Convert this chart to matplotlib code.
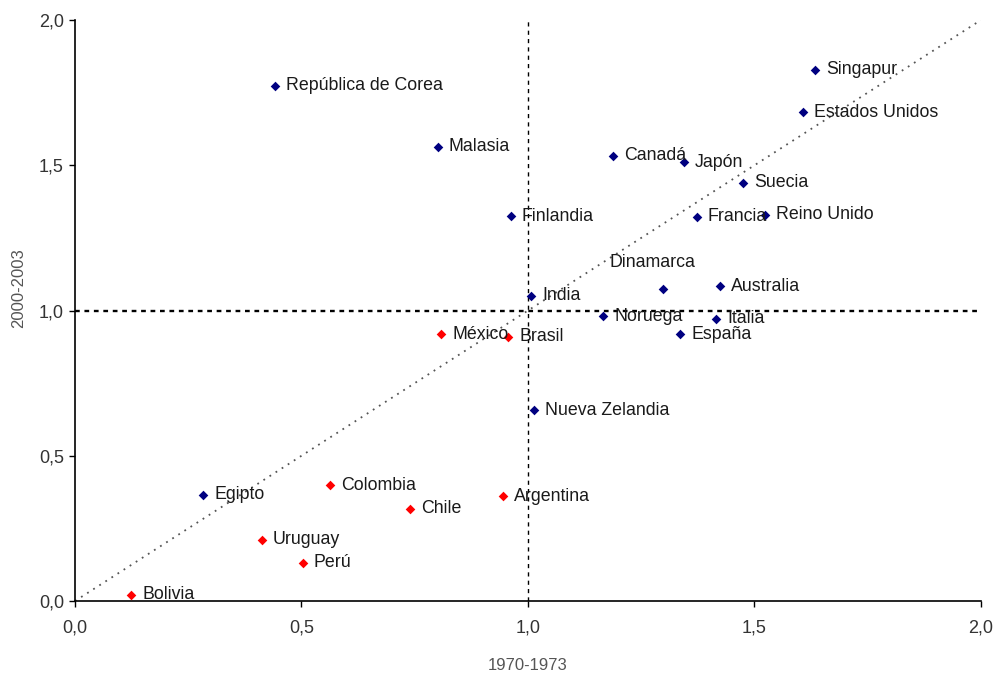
import matplotlib
matplotlib.use("Agg")
import matplotlib.pyplot as plt
from matplotlib.ticker import FuncFormatter

plt.rcParams['font.family'] = ['Liberation Sans', 'DejaVu Sans']

# Non-Latin-American countries (navy)
other_names = ["República de Corea", "Malasia", "Finlandia", "Canadá", "Japón", "Singapur",
               "Estados Unidos", "Suecia", "Francia", "Reino Unido", "Dinamarca", "Australia",
               "India", "Noruega", "Italia", "España", "Nueva Zelandia", "Egipto"]
other_x = [0.441, 0.801, 0.962, 1.188, 1.344, 1.634, 1.607, 1.475, 1.373, 1.523, 1.298, 1.424,
           1.007, 1.166, 1.415, 1.336, 1.013, 0.283]
other_y = [1.773, 1.563, 1.325, 1.532, 1.511, 1.828, 1.683, 1.439, 1.322, 1.329, 1.074, 1.084,
           1.050, 0.981, 0.971, 0.919, 0.657, 0.365]

# Latin American countries (red)
latam_names = ["México", "Brasil", "Colombia", "Chile", "Argentina", "Uruguay", "Perú", "Bolivia"]
latam_x = [0.808, 0.956, 0.563, 0.740, 0.945, 0.413, 0.503, 0.124]
latam_y = [0.919, 0.909, 0.399, 0.317, 0.361, 0.210, 0.131, 0.021]

ticks = [0.0, 0.5, 1.0, 1.5, 2.0]

fig = plt.figure(figsize=(9.95, 6.74), dpi=100)
ax = fig.add_axes([75/995, (674-601)/674, (981-75)/995, (601-20)/674])
ax.set_xlim(0, 2)
ax.set_ylim(0, 2)

# reference lines
ax.plot([0, 2], [0, 2], color='#555555', linestyle=(0, (1, 3)), linewidth=1.3, zorder=1)
ax.axvline(1.0, color='black', linestyle=(0, (3, 3)), linewidth=1.0, zorder=1)
ax.axhline(1.0, color='black', linestyle=(0, (2, 2)), linewidth=1.7, zorder=1)

ax.scatter(other_x, other_y, marker='D', s=24, color='#000080', zorder=3, linewidths=0)
ax.scatter(latam_x, latam_y, marker='D', s=24, color='#FF0000', zorder=3, linewidths=0)

special = {"Dinamarca": (-53, 27)}
for names, xs, ys in [(other_names, other_x, other_y), (latam_names, latam_x, latam_y)]:
    for n, x, y in zip(names, xs, ys):
        dx, dy = special.get(n, (11, 0))
        ax.annotate(n, (x, y), xytext=(dx * 0.72, dy * 0.72), textcoords='offset points',
                    ha='left', va='center', fontsize=12.8, color='#1a1a1a')

for s in ['top', 'right']:
    ax.spines[s].set_visible(False)
for s in ['left', 'bottom']:
    ax.spines[s].set_linewidth(1.2)

ax.set_xticks(ticks)
ax.set_yticks(ticks)
fmt = FuncFormatter(lambda v, p: f"{v:.1f}".replace('.', ','))
ax.xaxis.set_major_formatter(fmt)
ax.yaxis.set_major_formatter(fmt)
ax.tick_params(direction='out', length=4, width=1.0, labelsize=13, labelcolor='#333333')
ax.tick_params(axis='x', pad=9)
ax.tick_params(axis='y', pad=4)

ax.set_xlabel("1970-1973", fontsize=12, color='#555555', va='center')
ax.set_ylabel("2000-2003", fontsize=12, color='#555555', va='center')
ax.xaxis.set_label_coords(0.5, -(665 - 601) / 581)
ax.yaxis.set_label_coords(-(75 - 19) / 906, (601 - 288) / 581)

fig.savefig("out.png", dpi=100)
